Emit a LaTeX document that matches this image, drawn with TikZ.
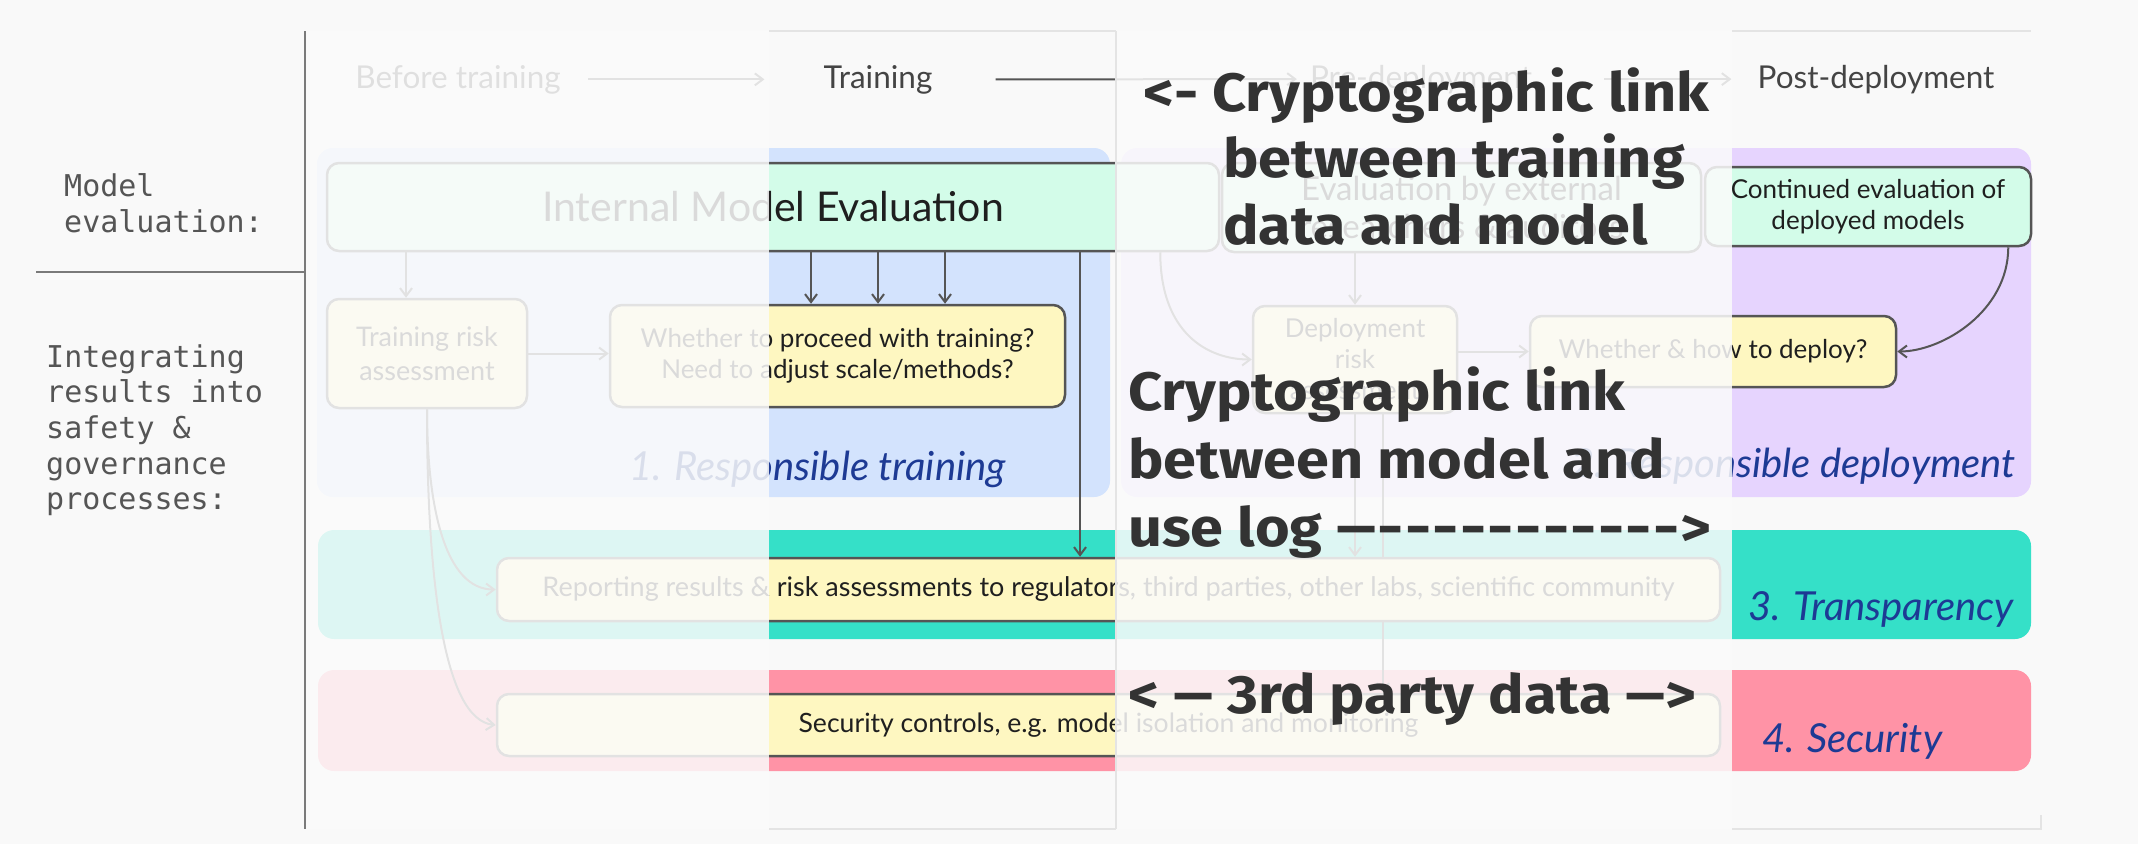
\documentclass[tikz,border=0pt]{standalone}
\usepackage{fontspec}
\usepackage{graphicx}
\setmainfont{Lato}
\newfontfamily\annfont{Fira Sans}[FakeStretch=1.1]
\newfontfamily\labmono{DejaVu Sans Mono}
\usetikzlibrary{arrows.meta}
\newcommand\longdash{\scalebox{1.3}[1]{–}}
\newcommand\rundash{\makebox[27.6pt][c]{\scalebox{0.72}[1]{–}}}
\definecolor{pagebg}{HTML}{F9F9F9}
\definecolor{fadec}{HTML}{FBFBFB}
\definecolor{blueS}{HTML}{D3E3FD}
\definecolor{purpS}{HTML}{E6D4FE}
\definecolor{tealS}{HTML}{35E0C8}
\definecolor{pinkS}{HTML}{FF93A6}
\definecolor{mintN}{HTML}{D3FCE9}
\definecolor{yellN}{HTML}{FEF7C1}
\definecolor{edgeC}{HTML}{555555}
\definecolor{nodeT}{HTML}{1F1F1F}
\definecolor{labB}{HTML}{1D3A94}
\definecolor{phaseT}{HTML}{444444}
\definecolor{monoT}{HTML}{555555}
\definecolor{annT}{HTML}{333333}
\definecolor{frameC}{HTML}{E4E4E4}
\definecolor{divC}{HTML}{7A7A7A}
\pgfdeclarelayer{sections}
\pgfdeclarelayer{edges}
\pgfdeclarelayer{fadelayer}
\pgfdeclarelayer{annot}
\pgfsetlayers{sections,edges,main,fadelayer,annot}
\begin{document}
\begin{tikzpicture}[x=1pt,y=-1pt,
  box/.style={draw=edgeC, line width=2.5pt, rounded corners=12pt, align=center, inner sep=0pt, text=nodeT, font=\fontsize{26}{31}\selectfont},
  mintbox/.style={box, fill=mintN},
  yellbox/.style={box, fill=yellN},
  section/.style={rounded corners=16pt, inner sep=0pt, draw=none},
  seclabel/.style={inner sep=0pt, text=labB, font=\itshape\fontsize{40}{44}\selectfont},
  phase/.style={inner sep=0pt, anchor=base, text=phaseT, font=\fontsize{31.5}{36}\selectfont},
  arr/.style={draw=edgeC, line width=2pt, -{Straight Barb[length=8pt,width=12pt]}},
  phasearr/.style={draw=edgeC, line width=2pt, -{Straight Barb[length=8pt,width=12pt]}},
  monolab/.style={inner sep=0pt, anchor=base west, text=monoT, font=\labmono\fontsize{30}{36}\selectfont},
  annotxt/.style={inner sep=0pt, anchor=base west, text=annT, font=\annfont\bfseries\fontsize{54}{60}\selectfont},
  fadebox/.style={fill=fadec, opacity=0.85},
  framel/.style={draw=frameC, line width=1.5pt},
]
\useasboundingbox (0,0) rectangle (2138,844);
% ---------- backgrounds and section bands
\begin{pgfonlayer}{sections}
\fill[pagebg] (0,0) rectangle (2138,844);
\node[section, fill=blueS, minimum width=793pt, minimum height=349pt] (sec1) at (713.5,322.5) {};
\node[section, fill=purpS, minimum width=910pt, minimum height=349pt] (sec2) at (1576,322.5) {};
\node[section, fill=tealS, minimum width=1713pt, minimum height=109pt] (sec3) at (1174.5,584.5) {};
\node[section, fill=pinkS, minimum width=1713pt, minimum height=101pt] (sec4) at (1174.5,720.5) {};
\end{pgfonlayer}
% ---------- left labels
\node[monolab] (m1) at (64,196) {Model};
\node[monolab] (m2) at (64,232) {evaluation:};
\node[monolab] (g1) at (46,367) {Integrating};
\node[monolab] (g2) at (46,402) {results into};
\node[monolab] (g3) at (46,438) {safety \&};
\node[monolab] (g4) at (46,474) {governance};
\node[monolab] (g5) at (46,509) {processes:};
\coordinate (divtop) at (305,31);
\coordinate (divbot) at (305,829);
\coordinate (divleft) at (36,272);
\draw[divC, line width=2.5pt] (divtop) -- (divbot);
\draw[divC, line width=2.5pt] (divleft) -- (divleft -| divtop);
% ---------- phase headers
\node[phase] (pBefore) at (458,88) {Before training};
\node[phase] (pTrain) at (878,88) {Training};
\node[phase] (pPre) at (1421,88) {Pre-deployment};
\node[phase] (pPost) at (1876,88) {Post-deployment};
\draw[phasearr] ([xshift=27pt]pBefore.east) -- ([xshift=-59pt]pTrain.west);
\draw[phasearr] ([xshift=63pt]pTrain.east) -- ([xshift=-13pt]pPre.west);
\draw[phasearr] ([xshift=72pt]pPre.east) -- ([xshift=-26pt]pPost.west);
% ---------- nodes
\node[mintbox, minimum width=892pt, minimum height=88pt, font=\fontsize{41}{46}\selectfont] (ime) at (773,207) {Internal Model Evaluation};
\node[mintbox, minimum width=479pt, minimum height=89pt, font=\fontsize{33}{38}\selectfont] (ext) at (1461.5,207.5) {Evaluation by external\\researchers \& auditors};
\node[mintbox, minimum width=326pt, minimum height=79pt] (cont) at (1868,206.5) {Continued evaluation of\\deployed models};
\node[yellbox, minimum width=200pt, minimum height=109pt, font=\fontsize{27}{34}\selectfont] (trisk) at (427,353.5) {Training risk\\assessment};
\node[yellbox, minimum width=455pt, minimum height=102pt] (proceed) at (837.5,356) {Whether to proceed with training?\\Need to adjust scale/methods?};
\node[yellbox, minimum width=204pt, minimum height=107pt] (drisk) at (1355,359.5) {Deployment\\risk\\assessment};
\node[yellbox, minimum width=366pt, minimum height=71pt] (deploy) at (1713,351.5) {Whether \& how to deploy?};
\node[yellbox, minimum width=1223pt, minimum height=63pt, font=\fontsize{27}{31}\selectfont] (report) at (1108.5,589.5) {Reporting results \& risk assessments to regulators, third parties, other labs, scientific community};
\node[yellbox, minimum width=1223pt, minimum height=62pt, font=\fontsize{26.6}{31}\selectfont] (secur) at (1108.5,725) {Security controls, e.g. model isolation and monitoring};
% ---------- section labels
\node[seclabel, anchor=base east] (l1) at (1006,480) {1. Responsible training};
\node[seclabel, anchor=base east] (l2) at (2016,477) {2. Responsible deployment};
\node[seclabel, anchor=base west] (l3) at (1748,620) {3. Transparency};
\node[seclabel, anchor=base west] (l4) at (1762,752) {4. Security};
% ---------- connectors
\begin{pgfonlayer}{edges}
\draw[arr] ([xshift=-21pt]trisk.north |- ime.south) -- ([xshift=-21pt]trisk.north);
\draw[arr] ([xshift=-26.5pt]proceed.north |- ime.south) -- ([xshift=-26.5pt]proceed.north);
\draw[arr] ([xshift=40.5pt]proceed.north |- ime.south) -- ([xshift=40.5pt]proceed.north);
\draw[arr] ([xshift=107.5pt]proceed.north |- ime.south) -- ([xshift=107.5pt]proceed.north);
\draw[arr] ([xshift=-28.5pt]report.north |- ime.south) -- ([xshift=-28.5pt]report.north);
\draw[arr] (trisk.east) -- (trisk.east -| proceed.west);
\draw[arr] (trisk.south) .. controls ([yshift=-100pt]trisk.south) and ([xshift=-50pt]report.west) .. (report.west);
\draw[arr] (trisk.south) .. controls ([yshift=-172pt]trisk.south) and ([xshift=-52pt,yshift=5pt]secur.west) .. (secur.west);
\draw[arr] ([xshift=-60pt]ime.south east) .. controls ([xshift=-60pt,yshift=-80pt]ime.south east) and ([xshift=-45pt]drisk.west) .. (drisk.west);
\draw[arr] (drisk.north |- ext.south) -- (drisk.north);
\draw[arr] (deploy.west -| drisk.east) -- (deploy.west);
\draw[arr] (drisk.south) -- (drisk.south |- report.north);
\draw[arr] ([xshift=28pt]drisk.south) -- ([xshift=28pt]drisk.south |- secur.north);
\draw[arr] ([xshift=-24pt]cont.south east) .. controls ([xshift=-24pt,yshift=-64pt]cont.south east) and ([xshift=45pt]deploy.east) .. (deploy.east);
\end{pgfonlayer}
% ---------- fading veils and strip frames
\begin{pgfonlayer}{fadelayer}
\fill[fadebox] (307,31) rectangle (769,829);
\fill[fadebox] (1116,31) rectangle (1732,829);
\draw[framel] (769,31) -- (1116,31);
\draw[framel] (1732,31) -- (2031,31);
\draw[framel] (769,829) -- (1116,829);
\draw[framel] (1732,829) -- (2041,829) -- (2041,815);
\draw[framel] (1116,31) -- (1116,829);
\end{pgfonlayer}
% ---------- annotations
\begin{pgfonlayer}{annot}
\node[annotxt] (a1a) at (1143,111) {<- Cryptographic link};
\node[annotxt] (a1b) at (1223,177) {between training};
\node[annotxt] (a1c) at (1223,244) {data and model};
\node[annotxt] (a2a) at (1128,410) {Cryptographic link};
\node[annotxt] (a2b) at (1128,478) {between model and};
\node[annotxt] (a2c) at (1128,546) {use log \longdash\rundash\rundash\rundash\rundash\rundash\rundash\rundash\rundash\rundash\rundash\rundash{}>};
\node[annotxt] (a3) at (1128,713) {< \longdash{} 3rd party data \longdash>};
\end{pgfonlayer}
\end{tikzpicture}
\end{document}
